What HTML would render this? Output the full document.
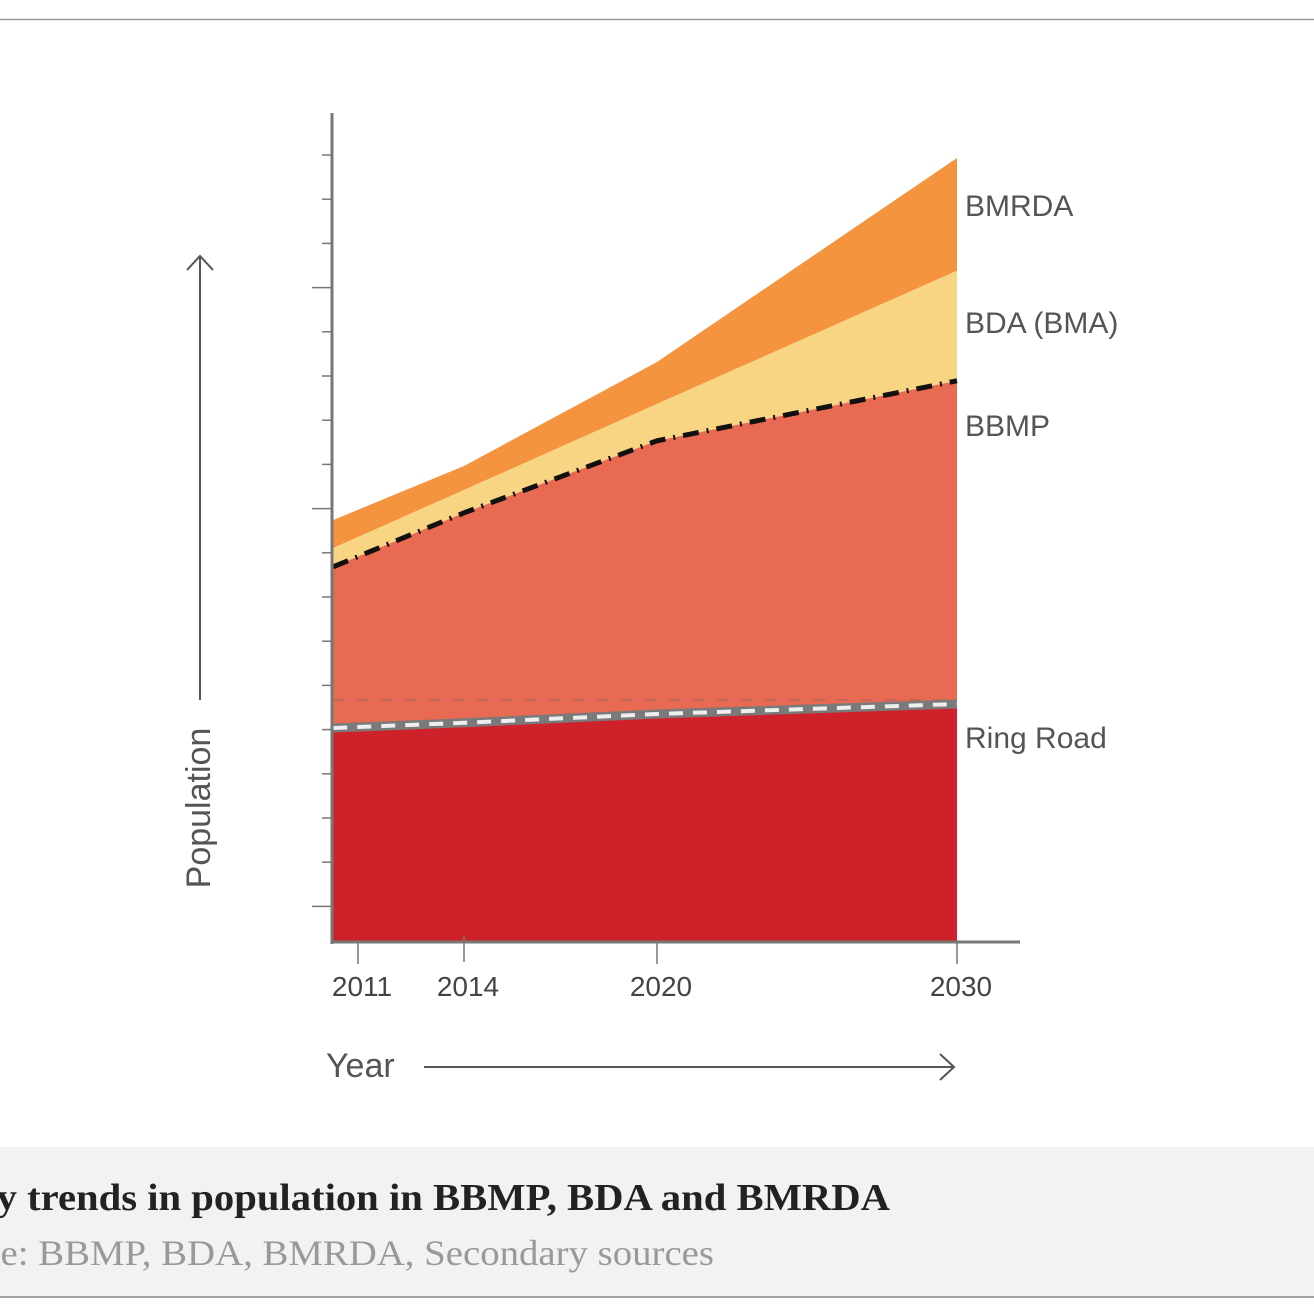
<!DOCTYPE html>
<html><head><meta charset="utf-8"><style>
body{margin:0;width:1314px;height:1314px;background:#fff;overflow:hidden;position:relative;font-family:"Liberation Sans",sans-serif}
</style></head><body>
<svg width="1314" height="1314" style="position:absolute;left:0;top:0">
<line x1="0" y1="19.5" x2="1314" y2="19.5" stroke="#999" stroke-width="1.5"/>
<rect x="0" y="1147" width="1314" height="150" fill="#f2f2f4"/>
<line x1="0" y1="1297" x2="1314" y2="1297" stroke="#888" stroke-width="1.5"/>
<text x="-53" y="1210" font-family="Liberation Serif,serif" font-weight="bold" font-size="38" fill="#222" textLength="943" lengthAdjust="spacingAndGlyphs">Key trends in population in BBMP, BDA and BMRDA</text>
<text x="-90" y="1265" font-family="Liberation Serif,serif" font-size="36" fill="#999" textLength="804" lengthAdjust="spacingAndGlyphs">Source: BBMP, BDA, BMRDA, Secondary sources</text>
<g id="areas"></g>
<g id="axes"></g>
<line x1="200" y1="700" x2="200" y2="256" stroke="#555" stroke-width="2"/>
<polyline points="187,270 200,256 213,270" fill="none" stroke="#555" stroke-width="2"/>
<text transform="translate(210,808) rotate(-90)" text-anchor="middle" font-size="34" fill="#555">Population</text>
<text x="326" y="1077" font-size="34" fill="#555">Year</text>
<line x1="424" y1="1067" x2="954" y2="1067" stroke="#555" stroke-width="2"/>
<polyline points="940,1054 954,1067 940,1080" fill="none" stroke="#555" stroke-width="2"/>
</svg>
<script>
const years=[2010.3,2014,2020,2030];
const ringRoad=[53.5,54.8,57,59.5];
const bbmp=[93.8,107.3,125.3,140.3];
const bda=[98.5,113,134.5,167.8];
const bmrda=[105.5,119,145,196];
const tickYears=[2011,2014,2020,2030];
const layerNames=['bmrda-area','bda-area','bbmp-area','ring-road-area'];
const layerLabels=['BMRDA','BDA (BMA)','BBMP','Ring Road'];
const dom=[2011,2014,2020,2030],rng=[358,464,657,957];
function x(v){let i=0;if(v>dom[2])i=2;else if(v>dom[1])i=1;return rng[i]+(v-dom[i])*(rng[i+1]-rng[i])/(dom[i+1]-dom[i]);}
function y(v){return 942-v*4;}
const NS='http://www.w3.org/2000/svg';
const areas=document.getElementById('areas'),axes=document.getElementById('axes');
function area(top,bot,fill,name){const p=document.createElementNS(NS,'path');
let d='M'+years.map((t,i)=>x(t)+','+y(top[i])).join('L');
for(let i=years.length-1;i>=0;i--)d+='L'+x(years[i])+','+y(bot?bot[i]:0);
p.setAttribute('d',d+'Z');p.setAttribute('fill',fill);


areas.appendChild(p);}
area(bmrda,bda,'#f5943f',layerNames[0]);
area(bda,bbmp,'#f8d582',layerNames[1]);
area(bbmp,ringRoad,'#e96a52',layerNames[2]);
area(ringRoad,null,'#cf2129',layerNames[3]);
function line(arr,stroke,w,dash,name){const p=document.createElementNS(NS,'polyline');
p.setAttribute('points',years.map((t,i)=>x(t)+','+y(arr[i])).join(' '));
p.setAttribute('fill','none');p.setAttribute('stroke',stroke);p.setAttribute('stroke-width',w);
if(dash)p.setAttribute('stroke-dasharray',dash);


areas.appendChild(p);}
const dl=document.createElementNS(NS,'line');
dl.setAttribute('x1',333);dl.setAttribute('x2',957);dl.setAttribute('y1',700);dl.setAttribute('y2',700);
dl.setAttribute('stroke','#c0675a');dl.setAttribute('stroke-width',2);dl.setAttribute('stroke-dasharray','12 12');


areas.appendChild(dl);
line(ringRoad,'#7a7a7a',9,null,'ring-road-line');
line(ringRoad,'#eee',4,'14 10','ring-road-dashes');
line(bbmp,'#111',5,'16 8 2 8','bbmp-boundary-line');
function ln(x1,y1,x2,y2,w,name){const l=document.createElementNS(NS,'line');
l.setAttribute('x1',x1);l.setAttribute('y1',y1);l.setAttribute('x2',x2);l.setAttribute('y2',y2);
l.setAttribute('stroke','#777');l.setAttribute('stroke-width',w);


axes.appendChild(l);}
ln(332,113,332,944,3,'y-axis');
ln(331,942,1020,942,3,'x-axis');
for(let k=0;k<18;k++){const yy=155+k*44.2;const major=(k===3||k===8||k===17);
ln(major?312:322,yy,332,yy,1.5,'y-tick');}
tickYears.forEach(t=>{ln(x(t),t===2014?936:942,x(t),t===2014?962:964,1.5,'x-tick');
const tx=document.createElementNS(NS,'text');tx.setAttribute('x',x(t)+4);tx.setAttribute('y',996);
tx.setAttribute('text-anchor','middle');tx.setAttribute('font-size','28');tx.setAttribute('fill','#444');
tx.textContent=t;


axes.appendChild(tx);});
const ly=[206,323,426,738];
layerLabels.forEach((s,i)=>{const tx=document.createElementNS(NS,'text');tx.setAttribute('x',965);tx.setAttribute('y',ly[i]+10);
tx.setAttribute('font-size','30');tx.setAttribute('fill','#555');tx.textContent=s;


axes.appendChild(tx);});
</script>
</body></html>
